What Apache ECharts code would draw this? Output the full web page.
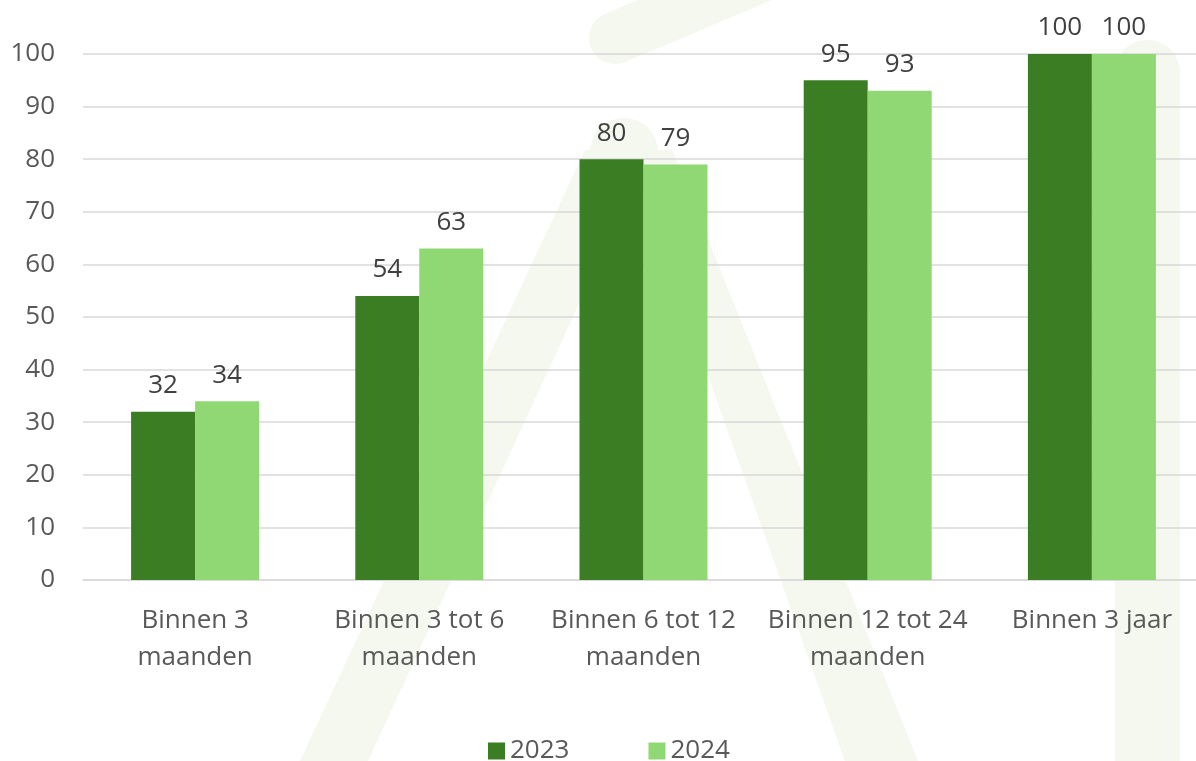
<!DOCTYPE html>
<html>
<head>
<meta charset="utf-8">
<script src="https://cdn.jsdelivr.net/npm/echarts@6/dist/echarts.min.js"></script>
<style>
  html, body { margin: 0; padding: 0; background: #fff; }
  #chart { width: 1196px; height: 761px; }
</style>
</head>
<body>
<div id="chart"></div>
<script>
// data
var categories = [
  'Binnen 3\nmaanden',
  'Binnen 3 tot 6\nmaanden',
  'Binnen 6 tot 12\nmaanden',
  'Binnen 12 tot 24\nmaanden',
  'Binnen 3 jaar'
]
var values2023 = [32, 54, 80, 95, 100]
var values2024 = [34, 63, 79, 93, 100]
var seriesNames = ['2023', '2024']

var font = '"Open Sans", "Noto Sans", sans-serif'
var wm = '#f4f8ee' // watermark tint

var chart = echarts.init(document.getElementById('chart'))

var barLabel = {
  show: true,
  position: 'top',
  distance: 11,
  color: '#404040',
  fontSize: 26,
  lineHeight: 30,
  fontFamily: font
}

var option = {
  backgroundColor: '#fff',
  textStyle: { fontFamily: font },
  color: ['#3b7d23', '#8fd873'],
  animation: false,
  // faint logo in the background
  graphic: [
    { type: 'polygon', z: -10, shape: { points: [[300, 761], [585, 150], [650, 150], [368, 761]] }, style: { fill: wm } },
    { type: 'polygon', z: -10, shape: { points: [[628, 150], [672, 150], [918, 761], [845, 761]] }, style: { fill: wm } },
    { type: 'circle', z: -10, shape: { cx: 624, cy: 152, r: 34 }, style: { fill: wm } },
    { type: 'line', z: -10, shape: { x1: 615, y1: 38, x2: 800, y2: -40 }, style: { stroke: wm, lineWidth: 52, lineCap: 'round' } },
    { type: 'rect', z: -10, shape: { x: 1115, y: 40, width: 65, height: 760, r: [32, 32, 0, 0] }, style: { fill: wm } }
  ],
  grid: {
    left: 83,
    width: 1121,
    top: 54,
    bottom: 181,
    outerBoundsMode: 'none'
  },
  legend: {
    data: seriesNames,
    left: 483,
    top: 733,
    itemWidth: 17,
    itemHeight: 17,
    itemGap: 79,
    icon: 'rect',
    textStyle: { color: '#595959', fontSize: 26, fontFamily: font }
  },
  xAxis: {
    type: 'category',
    data: categories,
    axisTick: { show: false },
    axisLine: { lineStyle: { color: '#d9d9d9', width: 1.5 } },
    axisLabel: {
      interval: 0,
      color: '#595959',
      fontSize: 26,
      lineHeight: 37,
      margin: 22,
      fontFamily: font
    }
  },
  yAxis: {
    type: 'value',
    min: 0,
    max: 100,
    interval: 10,
    axisLine: { show: false },
    axisTick: { show: false },
    splitLine: { lineStyle: { color: '#d9d9d9', width: 1.5 } },
    axisLabel: {
      color: '#595959',
      fontSize: 26,
      margin: 28,
      fontFamily: font
    }
  },
  series: [
    {
      name: seriesNames[0],
      type: 'bar',
      barWidth: 64,
      barGap: '0%',
      data: values2023,
      label: barLabel
    },
    {
      name: seriesNames[1],
      type: 'bar',
      barWidth: 64,
      barGap: '0%',
      data: values2024,
      label: barLabel
    }
  ]
}

chart.setOption(option)
</script>
</body>
</html>
